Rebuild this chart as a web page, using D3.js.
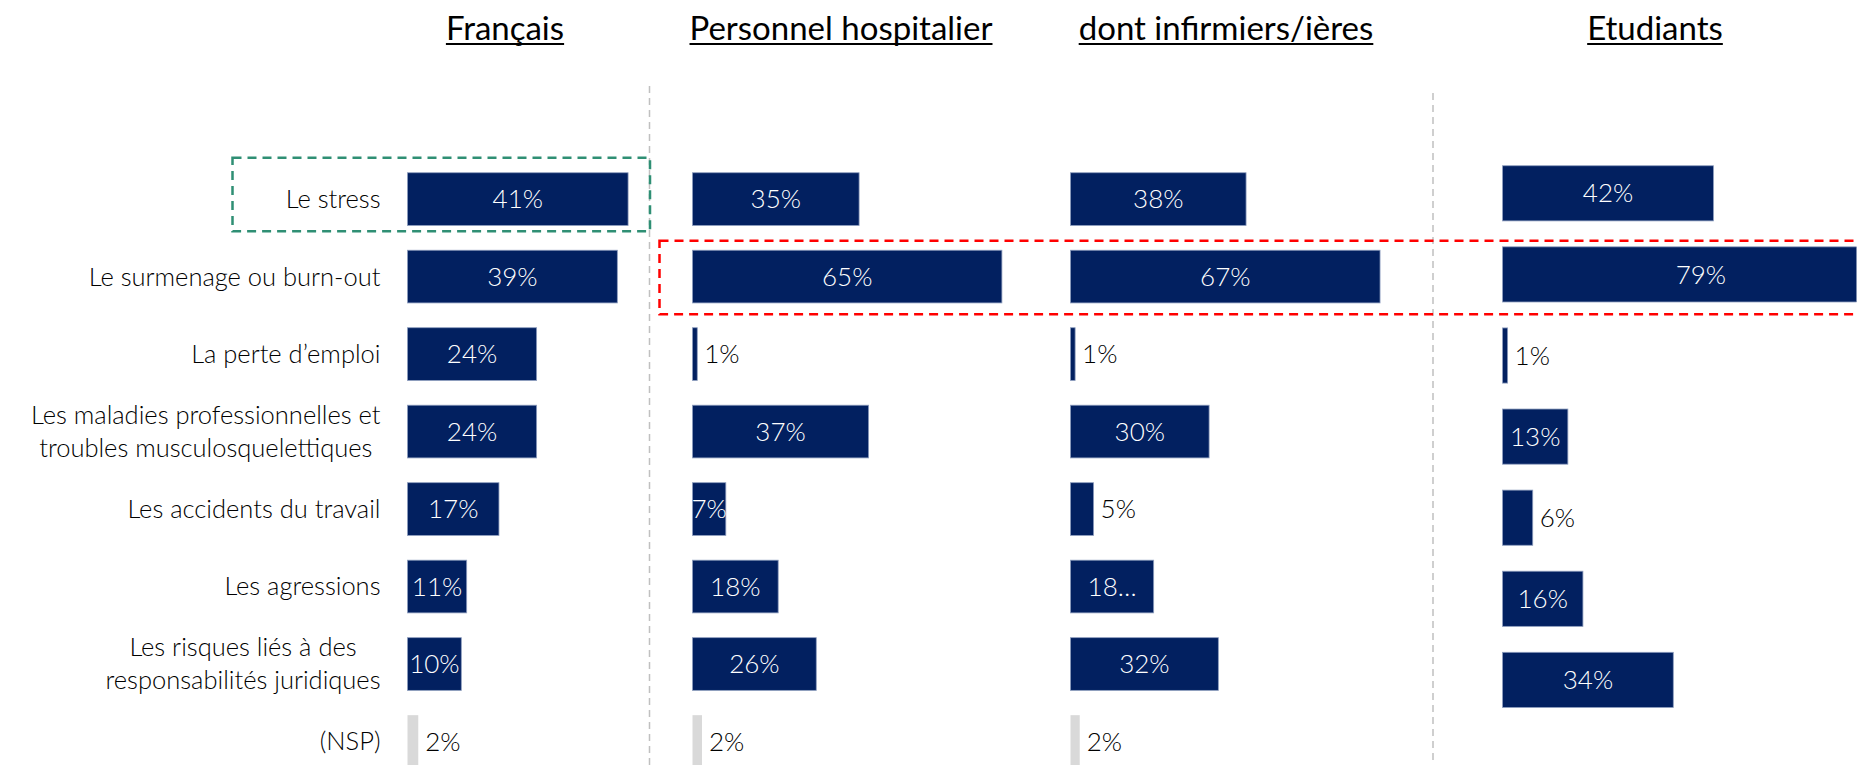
<!DOCTYPE html>
<html>
<head>
<meta charset="utf-8">
<script src="https://cdn.jsdelivr.net/npm/d3@7"></script>
<style>
  body { margin: 0; background: #fff; }
  svg { display: block; font-family: Lato, "Open Sans", sans-serif; }
</style>
</head>
<body>
<script>
var width = 1858,
    height = 765;

// data
var groups = ["Français", "Personnel hospitalier", "dont infirmiers/ières", "Etudiants"];
var categories = [
    "Le stress",
    "Le surmenage ou burn-out",
    "La perte d’emploi",
    "Les maladies professionnelles et\ntroubles musculosquelettiques",
    "Les accidents du travail",
    "Les agressions",
    "Les risques liés à des\nresponsabilités juridiques",
    "(NSP)"
];
var francais   = [41, 39, 24, 24, 17, 11, 10, 2];
var personnel  = [35, 65, 1, 37, 7, 18, 26, 2];
var infirmiers = [38, 67, 1, 30, 5, 18, 32, 2];
var etudiants  = [42, 79, 1, 13, 6, 16, 34, null];   // pas de (NSP)
var series = [francais, personnel, infirmiers, etudiants];
// label that the original tool cut off
var cutLabels = { "dont infirmiers/ières|Les agressions": "18…" };

// layout of each panel
var panels = [
    {x0: 407.5,  w100: 538, band: [134, 806.6], titleX: 505},
    {x0: 692.5,  w100: 476, band: [134, 806.6], titleX: 841},
    {x0: 1070.5, w100: 462, band: [134, 806.6], titleX: 1226},
    {x0: 1502.6, w100: 502, band: [125.2, 748], titleX: 1655}
];

var navy = "#022060",
    grey = "#d9d9d9";

var svg = d3.select("body").append("svg")
    .attr("width", width)
    .attr("height", height);

svg.append("defs").append("clipPath")
    .attr("id", "clipRight")
    .append("rect")
    .attr("x", 0).attr("y", 0)
    .attr("width", 1856.5).attr("height", height);

// separators
[649.5, 1433].forEach(function(x, i) {
    svg.append("line")
        .attr("x1", x).attr("x2", x)
        .attr("y1", i == 0 ? 86 : 93).attr("y2", height)
        .attr("stroke", "#c0c0c0")
        .attr("stroke-width", 1.5)
        .attr("stroke-dasharray", "7,5");
});

// titles
groups.forEach(function(g, i) {
    var t = svg.append("text")
        .attr("x", panels[i].titleX)
        .attr("y", 40)
        .attr("text-anchor", "middle")
        .style("font-size", "33px")
        .style("fill", "#000")
        .text(g);
    var len = t.node().getComputedTextLength();
    svg.append("line")
        .attr("x1", panels[i].titleX - len / 2)
        .attr("x2", panels[i].titleX + len / 2)
        .attr("y1", 44).attr("y2", 44)
        .attr("stroke", "#000")
        .attr("stroke-width", 2);
});

// category labels (from panel 1 band scale)
var yCat = d3.scaleBand()
    .domain(categories)
    .range(panels[0].band)
    .paddingInner(0.32)
    .paddingOuter(0.5);

var labelRight = 380.5;
categories.forEach(function(c) {
    var lines = c.split("\n");
    var cy = yCat(c) + yCat.bandwidth() / 2;
    var g = svg.append("g");
    var texts = lines.map(function(l, k) {
        return g.append("text")
            .attr("y", cy + (k - (lines.length - 1) / 2) * 33)
            .attr("dy", "0.35em")
            .attr("text-anchor", "middle")
            .style("font-size", "25.5px")
            .style("font-weight", 300)
            .style("fill", "#000")
            .text(l);
    });
    var maxW = d3.max(texts, function(t) { return t.node().getComputedTextLength(); });
    texts.forEach(function(t) { t.attr("x", labelRight - maxW / 2); });
});

// bars
series.forEach(function(vals, i) {
    var p = panels[i];
    var rows = categories.map(function(c, k) { return {cat: c, v: vals[k]}; })
        .filter(function(d) { return d.v != null; });

    var x = d3.scaleLinear().domain([0, 100]).range([p.x0, p.x0 + p.w100]);
    var y = d3.scaleBand()
        .domain(rows.map(function(d) { return d.cat; }))
        .range(p.band)
        .paddingInner(0.32)
        .paddingOuter(0.5);

    var g = svg.append("g");
    if (i == 3) g.attr("clip-path", "url(#clipRight)");

    g.selectAll("rect")
        .data(rows)
        .enter().append("rect")
        .attr("x", x(0))
        .attr("y", function(d) { return y(d.cat); })
        .attr("width", function(d) { return x(d.v) - x(0); })
        .attr("height", y.bandwidth())
        .attr("fill", function(d) { return d.cat == "(NSP)" ? grey : navy; })
        .attr("stroke", function(d) { return d.cat == "(NSP)" ? "none" : "#8c9cbd"; })
        .attr("stroke-width", 0.8);

    svg.append("g").selectAll("text")
        .data(rows)
        .enter().append("text")
        .attr("x", function(d) { return d.v >= 7 ? (x(0) + x(d.v)) / 2 : x(d.v) + 7; })
        .attr("y", function(d) { return y(d.cat) + y.bandwidth() / 2; })
        .attr("dy", "0.35em")
        .attr("text-anchor", function(d) { return d.v >= 7 ? "middle" : "start"; })
        .style("font-size", "26px")
        .style("font-weight", 300)
        .style("fill", function(d) { return d.v >= 7 ? "#fff" : "#000"; })
        .text(function(d) { return cutLabels[groups[i] + "|" + d.cat] || d.v + "%"; });
});

// highlight boxes
svg.append("rect")
    .attr("x", 232.5).attr("y", 157.7)
    .attr("width", 417.5).attr("height", 73.6)
    .attr("fill", "none")
    .attr("stroke", "#2f8f74")
    .attr("stroke-width", 2.5)
    .attr("stroke-dasharray", "9,6");

svg.append("rect")
    .attr("x", 659.5).attr("y", 240.7)
    .attr("width", 1220).attr("height", 73.6)
    .attr("fill", "none")
    .attr("stroke", "#ff0000")
    .attr("stroke-width", 2.5)
    .attr("stroke-dasharray", "9,6");
</script>
</body>
</html>
